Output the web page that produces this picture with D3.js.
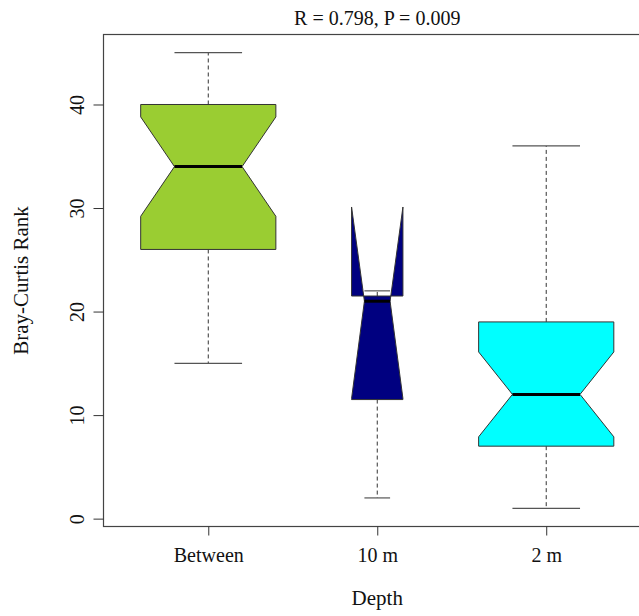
<!DOCTYPE html>
<html>
<head>
<meta charset="utf-8">
<script src="https://cdn.jsdelivr.net/npm/d3@7"></script>
<style>
  body { margin: 0; background: #fff; }
  svg { display: block; }
</style>
</head>
<body>
<div id="chart"></div>
<script>
// values
var groups     = ["Between", "10 m", "2 m"];
var whiskLow   = [15, 2, 1];
var q1         = [26, 11.5, 7];
var median     = [34, 21, 12];
var q3         = [40, 21.5, 19];
var whiskHigh  = [45, 22, 36];
var notchLow   = [29.2, 11.6, 7.9];
var notchHigh  = [38.8, 30.1, 16.1];
var relWidth   = [1, 0.38, 1];
var fills      = ["#9acd32", "#000080", "#00ffff"];
var yTicks     = [0, 10, 20, 30, 40];
var title      = "R = 0.798, P = 0.009";

var W = 639, H = 616;
var font = "'Liberation Serif', 'Times New Roman', serif";

var svg = d3.select("#chart")
  .append("svg")
    .attr("width", W)
    .attr("height", H);

var x = d3.scaleLinear()
    .domain([0.38, 3.62])
    .range([103.5, 651]);

var y = d3.scaleLinear()
    .domain([-0.76, 46.76])
    .range([526.5, 34.5]);

var boxHalf = 0.4; // half box width in x units

// boxes
groups.forEach(function(g, i) {
  var c = i + 1;
  var hw = boxHalf * relWidth[i];
  var nw = hw / 2;

  // whiskers (dashed)
  svg.append("line")
    .attr("x1", x(c)).attr("x2", x(c))
    .attr("y1", y(q3[i])).attr("y2", y(whiskHigh[i]))
    .attr("stroke", "#333").attr("stroke-dasharray", "4,3");
  svg.append("line")
    .attr("x1", x(c)).attr("x2", x(c))
    .attr("y1", y(q1[i])).attr("y2", y(whiskLow[i]))
    .attr("stroke", "#333").attr("stroke-dasharray", "4,3");

  // staples
  [whiskLow[i], whiskHigh[i]].forEach(function(v) {
    svg.append("line")
      .attr("x1", x(c - nw)).attr("x2", x(c + nw))
      .attr("y1", y(v)).attr("y2", y(v))
      .attr("stroke", "#555").attr("stroke-width", 1.2);
  });

  // notched box
  var pts = [
    [c - hw, q1[i]], [c - hw, notchLow[i]], [c - nw, median[i]],
    [c - hw, notchHigh[i]], [c - hw, q3[i]], [c + hw, q3[i]],
    [c + hw, notchHigh[i]], [c + nw, median[i]], [c + hw, notchLow[i]],
    [c + hw, q1[i]]
  ];
  svg.append("polygon")
    .attr("points", pts.map(function(p) { return x(p[0]) + "," + y(p[1]); }).join(" "))
    .attr("fill", fills[i])
    .attr("stroke", "#333")
    .attr("stroke-width", 1);

  // median
  svg.append("line")
    .attr("x1", x(c - nw)).attr("x2", x(c + nw))
    .attr("y1", y(median[i])).attr("y2", y(median[i]))
    .attr("stroke", "#000").attr("stroke-width", 3);
});

// frame
svg.append("rect")
  .attr("x", x(0.38)).attr("y", y(46.76))
  .attr("width", x(3.62) - x(0.38))
  .attr("height", y(-0.76) - y(46.76))
  .attr("fill", "none")
  .attr("stroke", "#444")
  .attr("stroke-width", 1.2);

// y axis
var yAxis = svg.append("g")
  .attr("transform", "translate(" + x(0.38) + ",0)")
  .call(d3.axisLeft(y).tickValues(yTicks).tickSize(10).tickSizeOuter(0).tickPadding(8));
yAxis.select(".domain").remove();
yAxis.selectAll(".tick line").attr("stroke", "#333");
yAxis.selectAll(".tick text")
  .attr("transform", "rotate(-90)")
  .attr("x", 0).attr("y", -20)
  .attr("dy", 0)
  .style("text-anchor", "middle")
  .style("font-family", font)
  .style("font-size", "20px")
  .attr("fill", "#111");

// x axis
var xAxis = svg.append("g")
  .attr("transform", "translate(0," + y(-0.76) + ")")
  .call(d3.axisBottom(x).tickValues([1, 2, 3]).tickFormat(function(d) { return groups[d - 1]; })
    .tickSize(9).tickSizeOuter(0));
xAxis.select(".domain").remove();
xAxis.selectAll(".tick line").attr("stroke", "#333");
xAxis.selectAll(".tick text")
  .attr("y", 21)
  .attr("dy", "0.71em")
  .style("font-family", font)
  .style("font-size", "20px")
  .attr("fill", "#111");

// title and axis labels
svg.append("text")
  .attr("x", (x(0.38) + x(3.62)) / 2).attr("y", 25)
  .attr("text-anchor", "middle")
  .style("font-family", font).style("font-size", "20px")
  .attr("fill", "#111")
  .text(title);

svg.append("text")
  .attr("x", (x(0.38) + x(3.62)) / 2).attr("y", 605)
  .attr("text-anchor", "middle")
  .style("font-family", font).style("font-size", "21px")
  .attr("fill", "#111")
  .text("Depth");

svg.append("text")
  .attr("transform", "translate(28," + (y(-0.76) + y(46.76)) / 2 + ") rotate(-90)")
  .attr("text-anchor", "middle")
  .style("font-family", font).style("font-size", "21px")
  .attr("fill", "#111")
  .text("Bray-Curtis Rank");
</script>
</body>
</html>
